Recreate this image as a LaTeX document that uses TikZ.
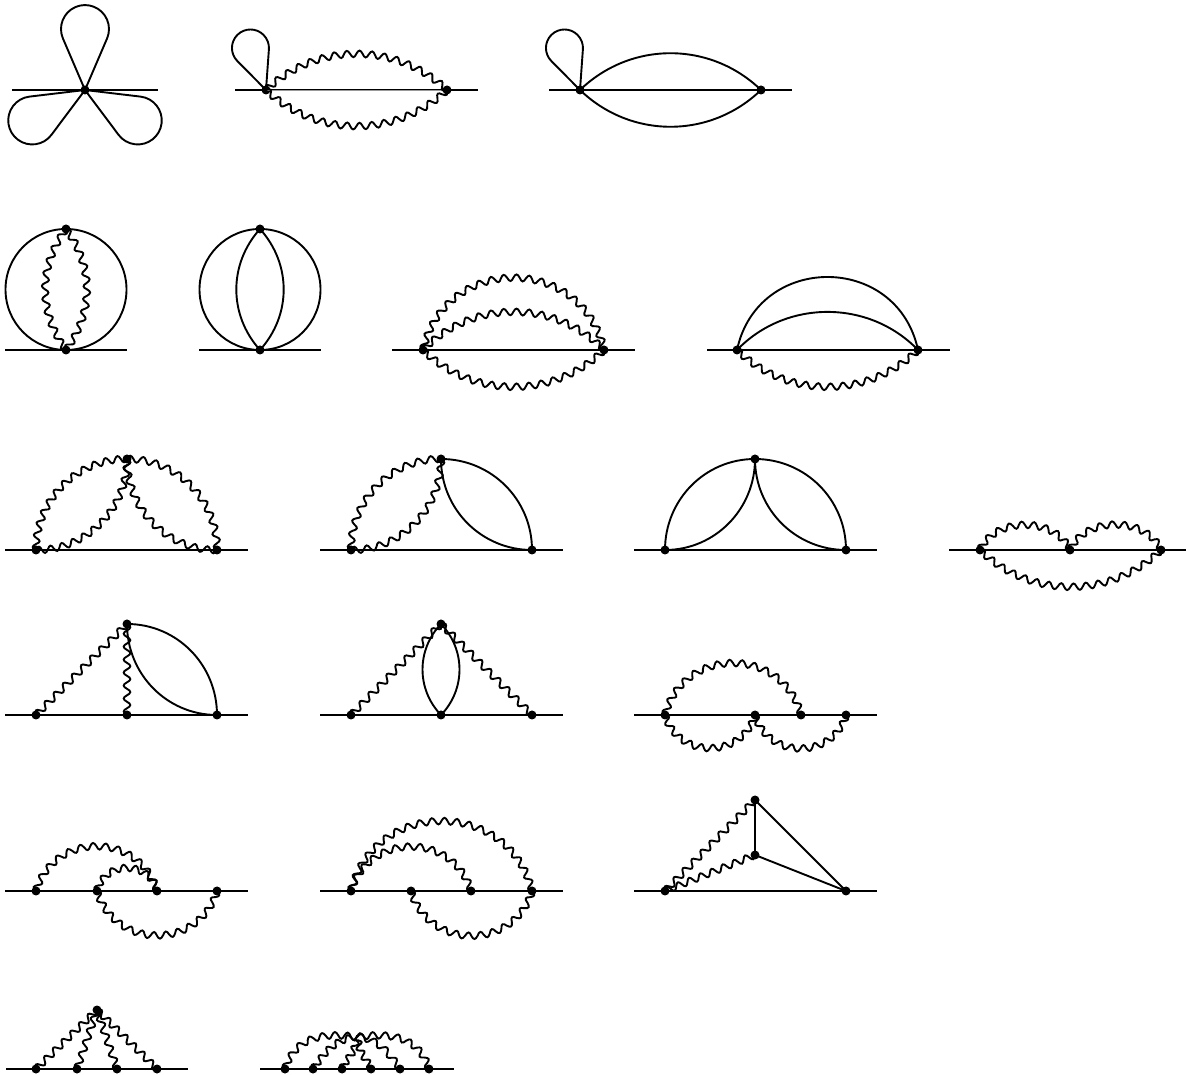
\documentclass[tikz,border=0pt]{standalone}
\usetikzlibrary{decorations}
\makeatletter
\pgfdeclaredecoration{wavefit}{init}{
  \state{init}[width=0pt,next state=up,persistent precomputation={
    \pgfmathsetmacro\wavefitn{max(1,round(\pgfdecoratedpathlength/12.4))}
    \pgfmathsetlengthmacro\wavefitw{\pgfdecoratedpathlength/(2*\wavefitn+0.04)}
  }]{}
  \state{up}[switch if less than=\wavefitw to final,width=\wavefitw,next state=down]{
    \pgfpathcurveto{\pgfpoint{.36*\wavefitw}{4.4pt}}{\pgfpoint{.64*\wavefitw}{4.4pt}}{\pgfpoint{\wavefitw}{0pt}}
  }
  \state{down}[switch if less than=\wavefitw to final,width=\wavefitw,next state=up]{
    \pgfpathcurveto{\pgfpoint{.36*\wavefitw}{-4.4pt}}{\pgfpoint{.64*\wavefitw}{-4.4pt}}{\pgfpoint{\wavefitw}{0pt}}
  }
  \state{final}{\pgfpathlineto{\pgfpointdecoratedpathlast}}
}
\makeatother
\tikzset{
  vtx/.style={circle,fill=black,inner sep=0pt,minimum size=9pt},
  fermion/.style={draw=black,line width=1.9pt},
  photon/.style={draw=black,line width=1.9pt,decorate,decoration={wavefit}}
}
% teardrop: vertex, axis angle, tangent length, half angle, radius
\newcommand{\teardrop}[5]{\draw[fermion,line join=round] (#1.center) -- ++({#2+#4}:#3) arc[start angle={#2+#4+90},end angle={#2-#4-90},radius=#5] -- (#1.center);}
\begin{document}
\begin{tikzpicture}[x=1pt,y=1pt]
\useasboundingbox (0,0) rectangle (1186,1074);
% y = 1074 - pixel row
% ---- D1
\node[vtx] (a0) at (85,984) {};
\coordinate (a1) at (12,984); \coordinate (a2) at (158,984);
\draw[fermion] (a1) -- (a2);
\teardrop{a0}{90}{56}{23.2}{24}
\teardrop{a0}{210}{56}{23.2}{24}
\teardrop{a0}{330}{56}{23.2}{24}
% ---- D2
\node[vtx] (b1) at (266,984) {}; \node[vtx] (b2) at (447,984) {};
\coordinate (b3) at (235,984); \coordinate (b4) at (478,984);
\draw[fermion] (b3) -- (b1.center);
\draw[fermion] (b2.center) -- (b4);
\draw[draw=black,line width=1.1pt,double=black!40,double distance=.7pt] (b1.center) -- (b2.center);
\teardrop{b1}{110.3}{40.8}{24.4}{18.5}
\draw[photon] (b1.center) to[out=43,in=137] (b2.center);
\draw[photon] (b1.center) to[out=-43,in=-137] (b2.center);
% ---- D3
\node[vtx] (c1) at (580,984) {}; \node[vtx] (c2) at (761,984) {};
\coordinate (c3) at (549,984); \coordinate (c4) at (792,984);
\draw[fermion] (c3) -- (c4);
\teardrop{c1}{110.3}{40.8}{24.4}{18.5}
\draw[fermion] (c1.center) to[out=44,in=136] (c2.center);
\draw[fermion] (c1.center) to[out=-44,in=-136] (c2.center);
% ---- D4
\node[vtx] (d1) at (66,845) {}; \node[vtx] (d2) at (66,724) {};
\coordinate (d3) at (5,724); \coordinate (d4) at (127,724);
\draw[fermion] (d3) -- (d4);
\draw[fermion] (66,784.5) circle[radius=60.5];
\draw[photon] (d1.center) to[out=-126,in=126] (d2.center);
\draw[photon] (d1.center) to[out=-54,in=54] (d2.center);
% ---- D5
\node[vtx] (e1) at (260,845) {}; \node[vtx] (e2) at (260,724) {};
\coordinate (e3) at (199,724); \coordinate (e4) at (321,724);
\draw[fermion] (e3) -- (e4);
\draw[fermion] (260,784.5) circle[radius=60.5];
\draw[fermion] (e1.center) to[out=-132,in=132] (e2.center);
\draw[fermion] (e1.center) to[out=-48,in=48] (e2.center);
% ---- D6
\node[vtx] (f1) at (423,724) {}; \node[vtx] (f2) at (604,724) {};
\coordinate (f3) at (392,724); \coordinate (f4) at (635,724);
\draw[fermion] (f3) -- (f4);
\draw[photon] (f1.center) to[out=77,in=103,looseness=1.4] (f2.center);
\draw[photon] (f1.center) to[out=46,in=134] (f2.center);
\draw[photon] (f1.center) to[out=-44,in=-136] (f2.center);
% ---- D7
\node[vtx] (g1) at (737,724) {}; \node[vtx] (g2) at (918,724) {};
\coordinate (g3) at (707,724); \coordinate (g4) at (950,724);
\draw[fermion] (g3) -- (g4);
\draw[fermion] (g1.center) to[out=78,in=102,looseness=1.41] (g2.center);
\draw[fermion] (g1.center) to[out=46,in=134] (g2.center);
\draw[photon] (g1.center) to[out=-44,in=-136] (g2.center);
% ---- D8
\node[vtx] (h1) at (36,524) {}; \node[vtx] (h2) at (217,524) {}; \node[vtx] (h3) at (127,615) {};
\coordinate (h4) at (5,524); \coordinate (h5) at (248,524);
\draw[fermion] (h4) -- (h5);
\draw[photon] (h1.center) to[out=90,in=180] (h3.center);
\draw[photon] (h1.center) to[out=0,in=-90] (h3.center);
\draw[photon] (h3.center) to[out=0,in=90] (h2.center);
\draw[photon] (h3.center) to[out=-90,in=180] (h2.center);
% ---- D9
\node[vtx] (i1) at (351,524) {}; \node[vtx] (i2) at (532,524) {}; \node[vtx] (i3) at (441,615) {};
\coordinate (i4) at (320,524); \coordinate (i5) at (563,524);
\draw[fermion] (i4) -- (i5);
\draw[photon] (i1.center) to[out=90,in=180] (i3.center);
\draw[photon] (i1.center) to[out=0,in=-90] (i3.center);
\draw[fermion] (i3.center) to[out=0,in=90] (i2.center);
\draw[fermion] (i3.center) to[out=-90,in=180] (i2.center);
% ---- D10
\node[vtx] (j1) at (665,524) {}; \node[vtx] (j2) at (846,524) {}; \node[vtx] (j3) at (755,615) {};
\coordinate (j4) at (634,524); \coordinate (j5) at (877,524);
\draw[fermion] (j4) -- (j5);
\draw[fermion] (j1.center) to[out=90,in=180] (j3.center);
\draw[fermion] (j1.center) to[out=0,in=-90] (j3.center);
\draw[fermion] (j3.center) to[out=0,in=90] (j2.center);
\draw[fermion] (j3.center) to[out=-90,in=180] (j2.center);
% ---- D11
\node[vtx] (k1) at (980,524) {}; \node[vtx] (k2) at (1070,524) {}; \node[vtx] (k3) at (1161,524) {};
\coordinate (k4) at (949,524); \coordinate (k5) at (1186,524);
\draw[fermion] (k4) -- (k5);
\draw[photon] (k1.center) to[out=65,in=115,looseness=1.05] (k2.center);
\draw[photon] (k2.center) to[out=65,in=115,looseness=1.05] (k3.center);
\draw[photon] (k1.center) to[out=-44,in=-136] (k3.center);
% ---- D12
\node[vtx] (l1) at (36,359) {}; \node[vtx] (l2) at (127,359) {}; \node[vtx] (l3) at (217,359) {}; \node[vtx] (l4) at (127,450) {};
\coordinate (l5) at (5,359); \coordinate (l6) at (248,359);
\draw[fermion] (l5) -- (l6);
\draw[photon] (l1.center) -- (l4.center);
\draw[photon] (l4.center) -- (l2.center);
\draw[fermion] (l4.center) to[out=0,in=90] (l3.center);
\draw[fermion] (l4.center) to[out=-90,in=180] (l3.center);
% ---- D13
\node[vtx] (m1) at (351,359) {}; \node[vtx] (m2) at (441,359) {}; \node[vtx] (m3) at (532,359) {}; \node[vtx] (m4) at (441,450) {};
\coordinate (m5) at (320,359); \coordinate (m6) at (563,359);
\draw[fermion] (m5) -- (m6);
\draw[photon] (m1.center) -- (m4.center);
\draw[photon] (m4.center) -- (m3.center);
\draw[fermion] (m4.center) to[out=-134,in=134] (m2.center);
\draw[fermion] (m4.center) to[out=-46,in=46] (m2.center);
% ---- D14
\node[vtx] (n1) at (665,359) {}; \node[vtx] (n2) at (755,359) {}; \node[vtx] (n3) at (801,359) {}; \node[vtx] (n4) at (846,359) {};
\coordinate (n5) at (634,359); \coordinate (n6) at (877,359);
\draw[fermion] (n5) -- (n6);
\draw[photon] (n1.center) to[out=75,in=105,looseness=1.35] (n3.center);
\draw[photon] (n1.center) to[out=-73,in=-107,looseness=1.31] (n2.center);
\draw[photon] (n2.center) to[out=-73,in=-107,looseness=1.31] (n4.center);
% ---- D15
\node[vtx] (o1) at (36,183) {}; \node[vtx] (o2) at (97,183) {}; \node[vtx] (o3) at (157,183) {}; \node[vtx] (o4) at (217,183) {};
\coordinate (o5) at (5,183); \coordinate (o6) at (248,183);
\draw[fermion] (o5) -- (o6);
\draw[photon] (o1.center) to[out=73,in=107,looseness=1.32] (o3.center);
\draw[photon] (o2.center) to[out=75,in=105,looseness=1.35] (o3.center);
\draw[photon] (o2.center) to[out=-73,in=-107,looseness=1.32] (o4.center);
% ---- D16
\node[vtx] (p1) at (351,183) {}; \node[vtx] (p2) at (411,183) {}; \node[vtx] (p3) at (471,183) {}; \node[vtx] (p4) at (532,183) {};
\coordinate (p5) at (320,183); \coordinate (p6) at (563,183);
\draw[fermion] (p5) -- (p6);
\draw[photon] (p1.center) to[out=76,in=104,looseness=1.36] (p4.center);
\draw[photon] (p1.center) to[out=73,in=107,looseness=1.32] (p3.center);
\draw[photon] (p2.center) to[out=-73,in=-107,looseness=1.32] (p4.center);
% ---- D17
\node[vtx] (q1) at (665,183) {}; \node[vtx] (q2) at (846,183) {}; \node[vtx] (q3) at (755,219) {}; \node[vtx] (q4) at (755,274) {};
\coordinate (q5) at (634,183); \coordinate (q6) at (877,183);
\draw[fermion] (q5) -- (q6);
\draw[photon] (q1.center) -- (q4.center);
\draw[photon] (q1.center) -- (q3.center);
\draw[fermion] (q4.center) -- (q3.center);
\draw[fermion] (q4.center) -- (q2.center);
\draw[fermion] (q3.center) -- (q2.center);
% ---- D18
\node[vtx] (r1) at (36,5) {}; \node[vtx] (r2) at (77,5) {}; \node[vtx] (r3) at (117,5) {}; \node[vtx] (r4) at (157,5) {}; \node[vtx] (r5) at (97,64) {};
\coordinate (r6) at (6,5); \coordinate (r7) at (188,5);
\draw[fermion] (r6) -- (r7);
\draw[photon] (r1.center) -- (r5.center);
\draw[photon] (r2.center) -- (r5.center);
\draw[photon] (r3.center) -- (r5.center);
\draw[photon] (r4.center) -- (r5.center);
% ---- D19
\node[vtx] (s1) at (285,5) {}; \node[vtx] (s2) at (313,5) {}; \node[vtx] (s3) at (342,5) {}; \node[vtx] (s4) at (371,5) {}; \node[vtx] (s5) at (400,5) {}; \node[vtx] (s6) at (429,5) {};
\coordinate (s7) at (260,5); \coordinate (s8) at (454,5);
\coordinate (t0) at (357,37); \coordinate (t1) at (355.5,34); \coordinate (t2) at (358.5,34);
\draw[fermion] (s7) -- (s8);
\draw[photon] (s1.center) to[out=72,in=172,looseness=1.1] (t0);
\draw[photon] (s2.center) to[out=55,in=185] (t0);
\draw[photon] (s3.center) to[out=65,in=-90] (t1);
\draw[photon] (s6.center) to[out=108,in=8,looseness=1.1] (t0);
\draw[photon] (s5.center) to[out=125,in=-5] (t0);
\draw[photon] (s4.center) to[out=115,in=-90] (t2);
\end{tikzpicture}
\end{document}
